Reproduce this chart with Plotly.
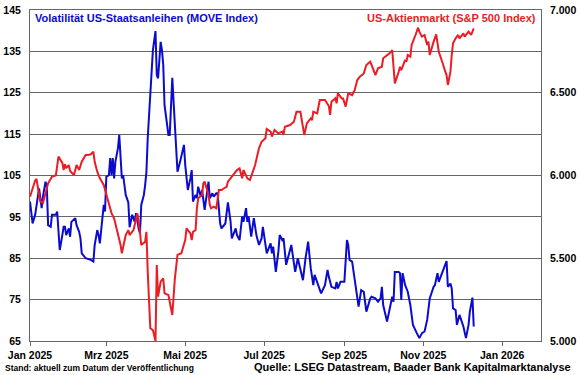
import plotly.graph_objects as go

# S&P 500 (right axis)
sp_dates = ["2025-01-01","2025-01-05","2025-01-06","2025-01-09","2025-01-11","2025-01-14","2025-01-15","2025-01-18","2025-01-21","2025-01-23",
"2025-01-26","2025-01-27","2025-01-28","2025-01-29","2025-01-31","2025-02-01","2025-02-04","2025-02-06","2025-02-08","2025-02-10",
"2025-02-13","2025-02-15","2025-02-17","2025-02-19","2025-02-20","2025-02-22","2025-02-24","2025-02-27","2025-02-28","2025-03-01",
"2025-03-03","2025-03-05","2025-03-07","2025-03-09","2025-03-12","2025-03-13","2025-03-16","2025-03-18","2025-03-19","2025-03-22",
"2025-03-25","2025-03-27","2025-03-28","2025-03-31","2025-04-01","2025-04-02","2025-04-04","2025-04-06","2025-04-08","2025-04-09",
"2025-04-10","2025-04-12","2025-04-14","2025-04-15","2025-04-18","2025-04-21","2025-04-23","2025-04-25","2025-04-28","2025-05-01",
"2025-05-02","2025-05-05","2025-05-06","2025-05-07","2025-05-09","2025-05-10","2025-05-11","2025-05-14","2025-05-15","2025-05-16",
"2025-05-18","2025-05-19","2025-05-20","2025-05-21","2025-05-23","2025-05-25","2025-05-27","2025-05-29","2025-05-31","2025-06-02",
"2025-06-03","2025-06-06","2025-06-07","2025-06-10","2025-06-12","2025-06-14","2025-06-15","2025-06-18","2025-06-20","2025-06-21",
"2025-06-24","2025-06-27","2025-06-29","2025-07-02","2025-07-03","2025-07-06","2025-07-07","2025-07-09","2025-07-12","2025-07-15",
"2025-07-16","2025-07-17","2025-07-21","2025-07-24","2025-07-26","2025-07-29","2025-07-30","2025-08-01","2025-08-03","2025-08-04",
"2025-08-06","2025-08-07","2025-08-08","2025-08-11","2025-08-13","2025-08-17","2025-08-20","2025-08-21","2025-08-22","2025-08-25",
"2025-08-26","2025-08-27","2025-08-30","2025-08-31","2025-09-02","2025-09-04","2025-09-07","2025-09-09","2025-09-11","2025-09-13",
"2025-09-16","2025-09-18","2025-09-21","2025-09-22","2025-09-25","2025-09-27","2025-09-30","2025-10-01","2025-10-04","2025-10-06",
"2025-10-08","2025-10-10","2025-10-13","2025-10-14","2025-10-15","2025-10-18","2025-10-19","2025-10-20","2025-10-22","2025-10-23",
"2025-10-26","2025-10-28","2025-10-29","2025-10-31","2025-11-02","2025-11-04","2025-11-05","2025-11-06","2025-11-09","2025-11-11",
"2025-11-13","2025-11-15","2025-11-16","2025-11-18","2025-11-19","2025-11-20","2025-11-22","2025-11-23","2025-11-24","2025-11-26",
"2025-11-28","2025-11-29","2025-12-02","2025-12-03","2025-12-06","2025-12-08","2025-12-10"]
sp_values = [5872,5970,5979,5842,5834,5932,5953,5993,6000,6114,
6076,6033,6068,6044,6063,6027,6003,6063,6033,6083,
6124,6124,6128,6144,6083,6023,5983,5943,5912,5882,
5834,5773,5741,5681,5580,5530,5640,5670,5640,5670,
5771,5660,5580,5600,5660,5419,5077,5066,5000,5459,
5268,5358,5379,5288,5278,5157,5379,5520,5530,5610,
5681,5650,5610,5660,5670,5802,5862,5882,5953,5963,
5902,5882,5822,5802,5812,5802,5912,5912,5923,5932,
5963,5993,6003,6033,6043,5983,6033,5983,5973,5993,
6063,6164,6204,6225,6281,6265,6235,6275,6255,6265,
6245,6295,6305,6325,6385,6385,6345,6245,6315,6325,
6345,6335,6385,6375,6456,6456,6420,6366,6446,6466,
6436,6497,6466,6466,6416,6497,6486,6517,6577,6597,
6617,6668,6688,6668,6607,6648,6657,6708,6728,6738,
6758,6557,6627,6657,6637,6698,6688,6728,6718,6789,
6849,6893,6869,6839,6849,6789,6809,6728,6809,6853,
6748,6708,6678,6627,6607,6547,6627,6728,6799,6829,
6849,6829,6859,6839,6869,6849,6889]

# MOVE index (left axis)
move_dates = ["2025-01-01","2025-01-03","2025-01-05","2025-01-06","2025-01-08","2025-01-10","2025-01-11","2025-01-13","2025-01-14","2025-01-15",
"2025-01-17","2025-01-18","2025-01-21","2025-01-22","2025-01-24","2025-01-26","2025-01-27","2025-01-28","2025-01-29","2025-01-31",
"2025-02-01","2025-02-02","2025-02-05","2025-02-06","2025-02-08","2025-02-09","2025-02-10","2025-02-13","2025-02-17","2025-02-19",
"2025-02-20","2025-02-22","2025-02-23","2025-02-24","2025-02-26","2025-02-27","2025-02-28","2025-03-01","2025-03-03","2025-03-04",
"2025-03-05","2025-03-06","2025-03-07","2025-03-08","2025-03-10","2025-03-11","2025-03-13","2025-03-14","2025-03-16","2025-03-18",
"2025-03-19","2025-03-21","2025-03-23","2025-03-24","2025-03-26","2025-03-27","2025-03-28","2025-03-30","2025-03-31","2025-04-01",
"2025-04-02","2025-04-04","2025-04-05","2025-04-06","2025-04-08","2025-04-09","2025-04-10","2025-04-12","2025-04-13","2025-04-14",
"2025-04-15","2025-04-18","2025-04-19","2025-04-21","2025-04-22","2025-04-23","2025-04-25","2025-04-27","2025-04-30","2025-05-01",
"2025-05-03","2025-05-05","2025-05-06","2025-05-07","2025-05-09","2025-05-10","2025-05-11","2025-05-13","2025-05-14","2025-05-16",
"2025-05-18","2025-05-19","2025-05-20","2025-05-22","2025-05-23","2025-05-25","2025-05-26","2025-05-28","2025-05-29","2025-06-01",
"2025-06-03","2025-06-05","2025-06-06","2025-06-09","2025-06-10","2025-06-12","2025-06-14","2025-06-15","2025-06-17","2025-06-18",
"2025-06-19","2025-06-21","2025-06-23","2025-06-25","2025-06-27","2025-06-29","2025-06-30","2025-07-03","2025-07-06","2025-07-07",
"2025-07-08","2025-07-10","2025-07-12","2025-07-13","2025-07-15","2025-07-16","2025-07-18","2025-07-20","2025-07-22","2025-07-24",
"2025-07-25","2025-07-27","2025-07-29","2025-07-31","2025-08-02","2025-08-04","2025-08-06","2025-08-08","2025-08-09","2025-08-12",
"2025-08-14","2025-08-17","2025-08-19","2025-08-20","2025-08-22","2025-08-25","2025-08-26","2025-08-27","2025-08-29","2025-09-01",
"2025-09-03","2025-09-04","2025-09-05","2025-09-07","2025-09-09","2025-09-12","2025-09-14","2025-09-16","2025-09-18","2025-09-21",
"2025-09-22","2025-09-25","2025-09-27","2025-09-29","2025-09-30","2025-10-01","2025-10-04","2025-10-06","2025-10-08","2025-10-09",
"2025-10-10","2025-10-13","2025-10-14","2025-10-15","2025-10-16","2025-10-18","2025-10-20","2025-10-22","2025-10-24","2025-10-27",
"2025-10-29","2025-10-31","2025-11-02","2025-11-04","2025-11-06","2025-11-09","2025-11-10","2025-11-12","2025-11-13","2025-11-15",
"2025-11-17","2025-11-19","2025-11-20","2025-11-22","2025-11-23","2025-11-24","2025-11-26","2025-11-27","2025-11-29","2025-12-01",
"2025-12-02","2025-12-04","2025-12-06","2025-12-07","2025-12-09","2025-12-10"]
move_values = [98.7,93.4,95.5,97.9,101.9,97.1,99.9,103.5,102.3,93.0,
92.6,95.5,95.5,96.3,87.0,90.6,92.6,92.6,90.6,92.2,
90.2,93.8,94.7,93.0,91.4,89.8,86.2,85.0,84.6,84.2,
88.2,91.8,90.6,88.6,93.8,97.9,96.3,104.7,105.1,109.2,
105.1,109.2,104.3,108.3,111.6,114.8,104.3,105.1,100.3,98.5,
92.5,95.5,93.8,95.9,92.2,91.0,97.9,100.3,102.7,105.9,
114.0,125.7,130.1,135.3,139.9,129.3,128.5,137.3,135.3,131.7,
122.0,114.8,114.8,128.6,122.8,116.4,105.9,108.3,112.4,107.5,
101.5,104.3,106.3,98.7,100.3,99.5,102.3,99.9,101.5,96.7,
100.7,103.5,99.5,100.7,99.9,100.7,100.7,93.4,92.2,93.4,
98.5,94.0,89.8,92.2,90.6,89.4,95.1,93.8,97.1,93.8,
95.1,90.2,94.7,90.6,88.2,89.8,92.6,86.2,88.6,86.2,
87.8,81.7,86.6,90.6,89.4,89.8,83.4,85.8,88.2,83.8,
81.7,85.0,82.6,79.7,85.0,89.0,82.6,78.5,81.0,78.1,
76.5,78.5,82.2,80.5,78.1,77.7,79.3,77.7,79.3,79.3,
89.4,88.2,84.6,84.2,80.2,73.3,77.3,76.9,72.1,75.3,
75.7,75.3,74.5,75.3,78.1,73.7,69.7,72.9,75.7,74.5,
81.7,81.7,81.4,74.9,81.4,78.5,76.9,73.7,68.9,66.9,
65.7,66.9,67.3,70.1,75.3,78.1,78.5,81.4,79.3,81.0,
82.6,84.3,78.1,78.9,77.7,72.9,72.5,68.9,71.3,69.7,
68.5,65.7,68.9,72.1,75.5,68.5]

x_tickvals = ["2025-01-01","2025-03-01","2025-05-01","2025-07-01","2025-09-01","2025-11-01","2026-01-01"]
x_ticktext = ["Jan 2025","Mrz 2025","Mai 2025","Jul 2025","Sep 2025","Nov 2025","Jan 2026"]
left_ticks = [65, 75, 85, 95, 105, 115, 125, 135, 145]
right_ticks = [5000, 5500, 6000, 6500, 7000]
right_ticktext = ["5.000", "5.500", "6.000", "6.500", "7.000"]

BLUE = "#0b0bd0"
RED = "#ec1c24"
GRID = "#666666"
FONT = "Liberation Sans"

fig = go.Figure()
fig.add_trace(go.Scatter(x=move_dates, y=move_values, mode="lines",
                         line=dict(color=BLUE, width=2), yaxis="y", showlegend=False))
fig.add_trace(go.Scatter(x=sp_dates, y=sp_values, mode="lines",
                         line=dict(color=RED, width=2), yaxis="y2", showlegend=False))

tickfont = dict(family=FONT, size=10.5, color="black", weight="bold")

fig.update_layout(
    width=580, height=375,
    margin=dict(l=30, r=39, t=10, b=34, autoexpand=False),
    paper_bgcolor="white", plot_bgcolor="white",
    xaxis=dict(type="date", range=["2025-01-01", "2026-01-31"],
               tickvals=x_tickvals, ticktext=x_ticktext,
               ticks="outside", ticklen=4, tickcolor=GRID, tickwidth=1,
               showgrid=False, showline=True, linecolor=GRID, linewidth=1, mirror=True,
               tickfont=tickfont, zeroline=False, automargin=False),
    yaxis=dict(range=[65, 145], tickvals=left_ticks,
               showgrid=True, gridcolor=GRID, gridwidth=1,
               showline=True, linecolor=GRID, linewidth=1, mirror=True,
               ticks="", tickfont=tickfont, ticklabelstandoff=6, zeroline=False,
               automargin=False),
    yaxis2=dict(range=[5000, 7000], tickvals=right_ticks, ticktext=right_ticktext,
                overlaying="y", side="right", showgrid=False, showline=False,
                ticks="", tickfont=tickfont,
                ticklabelstandoff=8, zeroline=False, automargin=False),
    annotations=[
        dict(text="Volatilität US-Staatsanleihen (MOVE Index)", xref="paper", yref="paper",
             x=0.0068, y=0.975, xanchor="left", yanchor="middle", showarrow=False,
             font=dict(family=FONT, size=11, color=BLUE, weight="bold")),
        dict(text="US-Aktienmarkt (S&P 500 Index)", xref="paper", yref="paper",
             x=0.994, y=0.975, xanchor="right", yanchor="middle", showarrow=False,
             font=dict(family=FONT, size=11, color=RED, weight="bold")),
        dict(text="Stand: aktuell zum Datum der Veröffentlichung", xref="paper", yref="paper",
             x=-0.0538, y=-0.0807, xanchor="left", yanchor="middle", showarrow=False,
             font=dict(family=FONT, size=8.5, color="black", weight="bold")),
        dict(text="Quelle: LSEG Datastream, Baader Bank Kapitalmarktanalyse", xref="paper", yref="paper",
             x=1.0626, y=-0.0776, xanchor="right", yanchor="middle", showarrow=False,
             font=dict(family=FONT, size=11, color="black", weight="bold")),
    ],
)

fig.write_html("out.html", config={"displayModeBar": False},
               post_script="document.body.style.margin='0';document.body.style.overflow='hidden';")
